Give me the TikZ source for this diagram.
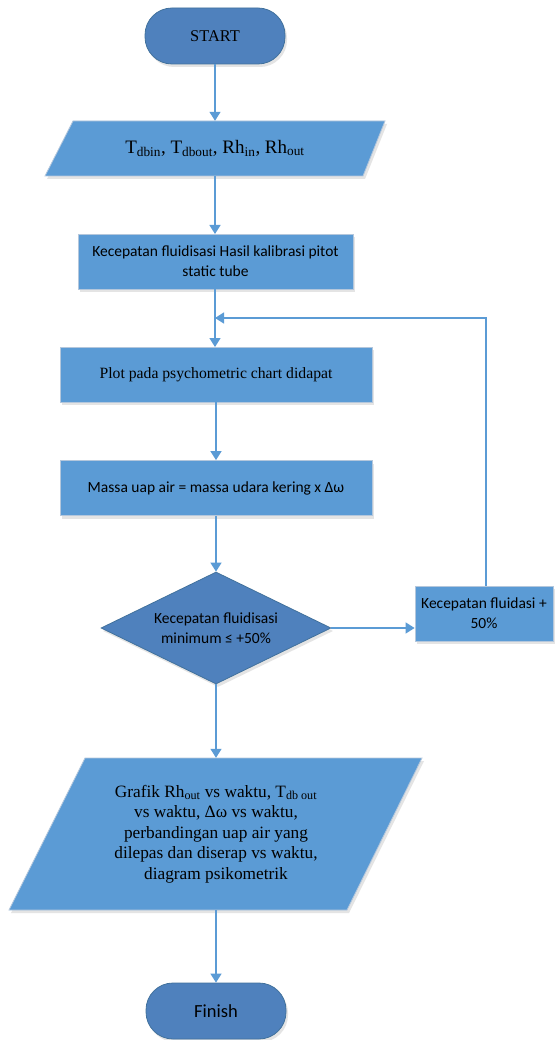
\documentclass[tikz,border=0pt]{standalone}
\usepackage{fontspec}
\setmainfont{Liberation Serif}
\newfontfamily\calib{Carlito}
\usetikzlibrary{arrows.meta,shapes.geometric,shadows}
\definecolor{termfill}{HTML}{4F81BD}
\definecolor{termline}{HTML}{41719C}
\definecolor{boxfill}{HTML}{5B9BD5}
\definecolor{boxline}{HTML}{B4C7DC}
\definecolor{conncol}{HTML}{5B9BD5}
\tikzset{
  shd/.style={drop shadow={shadow xshift=2pt,shadow yshift=-3pt,fill=black!30,opacity=0.35}},
  term/.style={rectangle,rounded corners=27pt,fill=termfill,draw=termline,line width=0.8pt,
    minimum width=140pt,minimum height=56pt,align=center,shd},
  procbox/.style={rectangle,fill=boxfill,draw=boxline,line width=0.8pt,align=center,shd},
  paraback/.style={fill=boxfill,draw=boxline,line width=0.8pt,shd},
  decision/.style={diamond,fill=termfill,draw=termline,line width=0.8pt,aspect=2.05,
    minimum width=230pt,minimum height=112pt,inner sep=0pt,align=center,shd},
  conn/.style={draw=conncol,line width=1.4pt,-{Triangle[length=9pt,width=11pt]}},
  tms/.style={font=\fontsize{15.7}{19}\selectfont},
  cal/.style={font=\calib\fontsize{15.5}{20}\selectfont},
}
\begin{document}
\begin{tikzpicture}[x=1pt,y=-1pt]
\useasboundingbox (0,0) rectangle (555,1040);
\fill[white] (0,0) rectangle (555,1040);

% terminals
\node[term,font=\fontsize{16.4}{19}\selectfont] (start) at (215,36) {START};

% input parallelogram
\path[paraback] (73,121) -- (385,121) -- (363,176) -- (45,176) -- cycle;
\node[font=\fontsize{19}{22}\selectfont,minimum width=290pt,minimum height=55pt] (in) at (215,148.5)
  {T\textsubscript{dbin}, T\textsubscript{dbout}, Rh\textsubscript{in}, Rh\textsubscript{out}};

\node[procbox,cal,minimum width=275pt,minimum height=55pt] (b1) at (215.5,261.5)
  {Kecepatan fluidisasi Hasil kalibrasi pitot\\static tube};

\node[procbox,tms,minimum width=312pt,minimum height=55pt] (plot) at (216,374.5)
  {Plot pada psychometric chart didapat};

\node[procbox,cal,minimum width=312pt,minimum height=55pt] (massa) at (216,488)
  {Massa uap air = massa udara kering x Δω};

\node[decision,cal] (dec) at (216,628)
  {Kecepatan fluidisasi\\minimum ≤ +50\%};

\node[procbox,cal,minimum width=138pt,minimum height=55pt] (inc) at (484,613.5)
  {Kecepatan fluidasi +\\50\%};

% output parallelogram
\path[paraback] (85,758) -- (422,758) -- (347,910) -- (9,910) -- cycle;
\node[font=\fontsize{17.3}{20.5}\selectfont,align=center,minimum width=260pt,minimum height=152pt] (out) at (216,834)
  {Grafik Rh\textsubscript{out} vs waktu, T\textsubscript{db out}\\
   vs waktu, Δω vs waktu,\\
   perbandingan uap air yang\\
   dilepas dan diserap vs waktu,\\
   diagram psikometrik};

\node[term,font=\calib\fontsize{18.5}{20}\selectfont] (finish) at (216,1011) {Finish};

% connectors
\coordinate (j) at (215,318);
\draw[conn] (start) -- (in);
\draw[conn] (in) -- (215,234);
\draw[conn] (b1.south -| 215,0) -- (215,347);
\draw[conn] (plot) -- (massa);
\draw[conn] (massa) -- (dec);
\draw[conn] (dec.east) -- (dec.east -| inc.west);
\draw[conn] (inc.north -| 486,0) |- (j);
\draw[conn] (dec) -- (out.north);
\draw[conn] (out.south) -- (finish);
\end{tikzpicture}
\end{document}
